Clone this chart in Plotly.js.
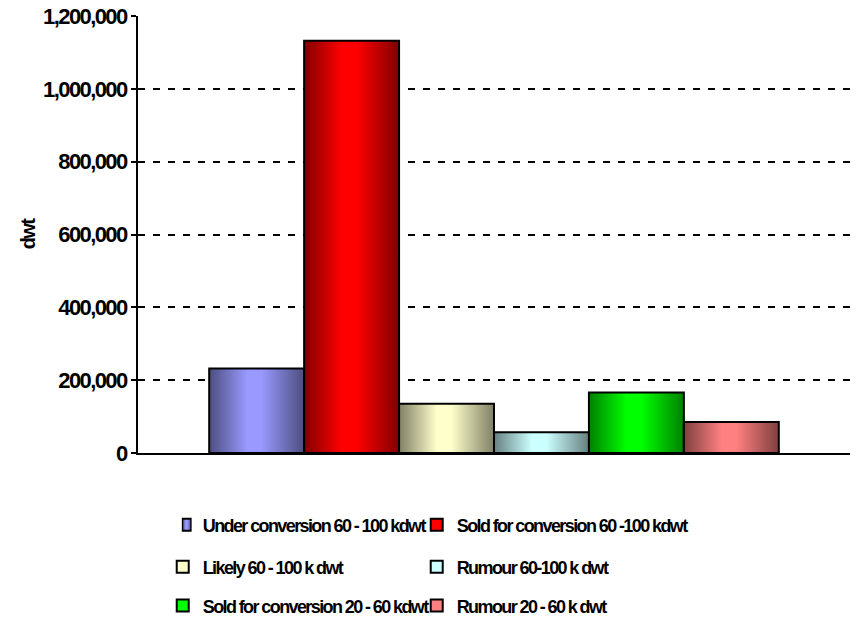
<!DOCTYPE html>
<html>
<head>
<meta charset="utf-8">
<script src="https://cdn.plot.ly/plotly-3.0.1.min.js"></script>
<style>
  html, body { margin: 0; padding: 0; background: #fff; }
  #chart { width: 861px; height: 617px; }
  /* tight, condensed-looking lettering (also used when the library measures text) */
  text { letter-spacing: -1.6px; }
</style>
</head>
<body>
<div id="chart"></div>
<script>
// Tonnage of tankers by conversion status (dwt)
const category = ['Tankers'];

const seriesNames = [
  'Under conversion 60 - 100 kdwt',
  'Sold for conversion 60 -100 kdwt',
  'Likely 60 - 100 k dwt',
  'Rumour 60-100 k dwt',
  'Sold for conversion 20 - 60 kdwt',
  'Rumour 20 - 60 k dwt'
];

const seriesValues = [232000, 1132000, 135000, 57000, 166000, 85000];

// light centre / dark edge colour of each cylinder-shaded bar
const lightColors = ['#9999ff', '#ff0000', '#ffffcc', '#ccffff', '#00ff00', '#ff8080'];
const darkColors  = ['#4d4d80', '#800000', '#808066', '#668080', '#008000', '#804040'];

const yTicks = [0, 200000, 400000, 600000, 800000, 1000000, 1200000];

const FONT = '"Liberation Sans", Arial, sans-serif';

// one legend box per entry: two columns, three rows
const legendIds = ['legend', 'legend2', 'legend3', 'legend4', 'legend5', 'legend6'];
const legendCols = [0.189, 0.484];
const legendRows = [0.149, 0.081, 0.018];

const traces = seriesNames.map((name, i) => ({
  type: 'bar',
  name: name,
  x: category,
  y: [seriesValues[i]],
  legend: legendIds[i],
  marker: { color: lightColors[i], line: { color: '#000', width: 2 } },
  hoverinfo: 'name+y'
}));

function legendBox(i) {
  return {
    orientation: 'h',
    xref: 'container', yref: 'container',
    x: legendCols[i % 2], xanchor: 'left',
    y: legendRows[Math.floor(i / 2)], yanchor: 'middle',
    itemwidth: 30,
    font: { family: FONT, size: 18, color: '#000', weight: 'bold' },
    bgcolor: 'rgba(0,0,0,0)'
  };
}

const layout = {
  width: 861, height: 617,
  margin: { l: 138, r: 11, t: 16, b: 164 },
  paper_bgcolor: '#fff', plot_bgcolor: '#fff',
  barmode: 'group', bargap: 0.2, bargroupgap: 0,
  showlegend: true,
  font: { family: FONT, color: '#000' },
  xaxis: {
    type: 'category', showticklabels: false, ticks: '',
    showgrid: false, showline: true, linecolor: '#000', linewidth: 2,
    zeroline: false, fixedrange: true
  },
  yaxis: {
    range: [0, 1200000], tickvals: yTicks, tickformat: ',d',
    tickfont: { family: FONT, size: 22, color: '#000', weight: 'bold' },
    ticks: 'outside', ticklen: 5, tickwidth: 2, tickcolor: '#000',
    showline: true, linecolor: '#000', linewidth: 2,
    showgrid: true, gridcolor: '#000', gridwidth: 2, griddash: '7px,8px',
    zeroline: false, fixedrange: true,
    title: { text: 'dwt', standoff: 2, font: { family: FONT, size: 20, color: '#000', weight: 'bold' } }
  }
};
legendIds.forEach((id, i) => { layout[id] = legendBox(i); });

// horizontal "cylinder" gradients for the bar fills
function applyGradients(gd) {
  const svg = gd.querySelector('svg.main-svg');
  if (!svg) return;
  let defs = svg.querySelector('defs');
  if (!defs) { defs = document.createElementNS('http://www.w3.org/2000/svg', 'defs'); svg.insertBefore(defs, svg.firstChild); }
  lightColors.forEach((c, i) => {
    const id = 'barshade' + i;
    if (defs.querySelector('#' + id)) return;
    const g = document.createElementNS('http://www.w3.org/2000/svg', 'linearGradient');
    g.setAttribute('id', id);
    g.setAttribute('x1', '0'); g.setAttribute('x2', '1');
    g.setAttribute('y1', '0'); g.setAttribute('y2', '0');
    [[0, darkColors[i]], [0.4, c], [0.55, c], [1, darkColors[i]]].forEach(([o, col]) => {
      const s = document.createElementNS('http://www.w3.org/2000/svg', 'stop');
      s.setAttribute('offset', o);
      s.setAttribute('stop-color', col);
      g.appendChild(s);
    });
    defs.appendChild(g);
  });
  gd.querySelectorAll('.barlayer .trace').forEach((t, i) => {
    t.querySelectorAll('path').forEach(p => { p.style.fill = 'url(#barshade' + (i % lightColors.length) + ')'; });
  });
  // legend swatches: same shading, drawn as narrow upright boxes
  document.querySelectorAll('text.legendtext').forEach(txt => {
    const idx = seriesNames.indexOf(txt.textContent.trim());
    if (idx < 0) return;
    let item = txt.parentNode;
    while (item && item !== document && !(item.querySelector && item.querySelector('.legendpoints path'))) {
      item = item.parentNode;
    }
    if (!item || item === document) return;
    item.querySelectorAll('.legendpoints path').forEach(p => {
      p.style.fill = 'url(#barshade' + idx + ')';
      const tr = p.getAttribute('transform') || '';
      if (tr.indexOf('scale(0.7,1)') < 0) {
        p.setAttribute('transform', tr + ' translate(4,0) scale(0.7,1)');
      }
    });
  });
}

const gd = document.getElementById('chart');
Plotly.newPlot(gd, traces, layout, { displayModeBar: false, staticPlot: true }).then(() => {
  applyGradients(gd);
  gd.on('plotly_afterplot', () => applyGradients(gd));
  // legends may be (re)drawn after the first pass; restyle whenever nodes are added
  new MutationObserver(() => applyGradients(gd)).observe(gd, { childList: true, subtree: true });
  setTimeout(() => applyGradients(gd), 50);
  setTimeout(() => applyGradients(gd), 300);
});
</script>
</body>
</html>
